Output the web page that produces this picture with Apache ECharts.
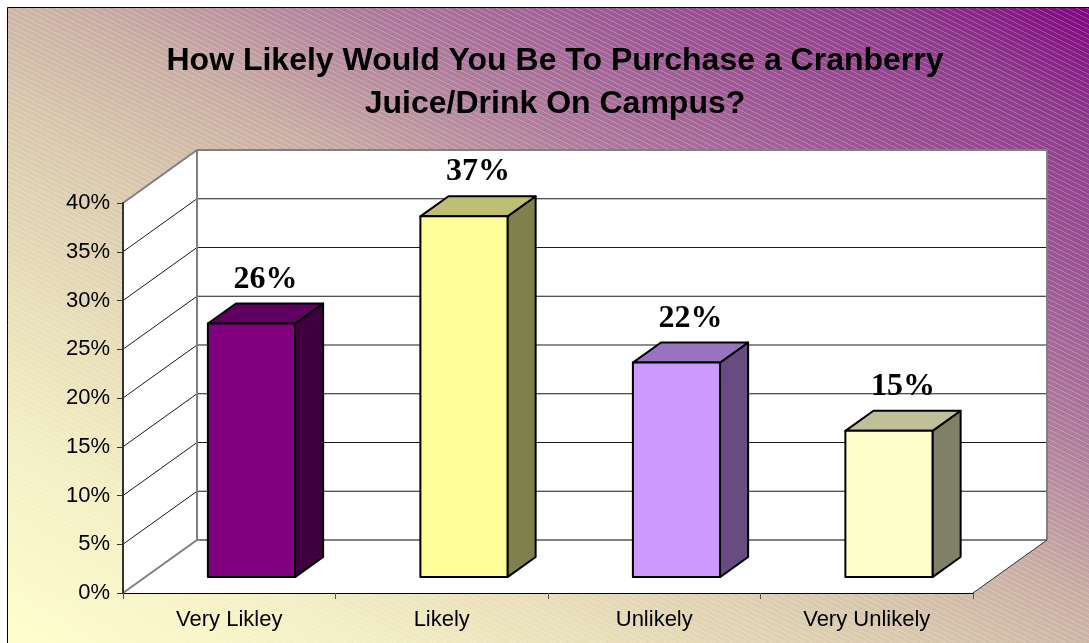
<!DOCTYPE html>
<html>
<head>
<meta charset="utf-8">
<script src="https://cdn.jsdelivr.net/npm/echarts@6/dist/echarts.min.js"></script>
<style>
  html, body { margin: 0; padding: 0; background: #fff; }
  #chart { width: 1089px; height: 643px; }
</style>
</head>
<body>
<div id="chart"></div>
<script>
// Survey answers and their shares (percent)
const categories = ['Very Likley', 'Likely', 'Unlikely', 'Very Unlikely'];
const shares = [26, 37, 22, 15];
// Value-axis ticks (percent); the outermost ones are the wall edges
const yTicks = [0, 5, 10, 15, 20, 25, 30, 35, 40];
const titleLines = ['How Likely Would You Be To Purchase a Cranberry', 'Juice/Drink On Campus?'];

// Face colours for each bar: front, top (shaded), side (darker)
const frontColors = ['#800080', '#FFFF99', '#CC99FF', '#FFFFCC'];
const topColors   = ['#600060', '#BFBF73', '#9973BF', '#BFBF99'];
const sideColors  = ['#400040', '#80804C', '#664C80', '#808066'];

// Oblique depth of the plot box in pixels
const DEPTH_X = 74, DEPTH_Y = -53;
// Bars occupy this slice of the depth and this fraction of a category band
const BAR_DEPTH_START = 0.3, BAR_DEPTH = 0.38, BAR_WIDTH = 0.41;

const SANS = '"Liberation Sans", Arial, sans-serif';
const SERIF = '"Liberation Serif", "Times New Roman", serif';

// Fine diagonal hatch laid over the frame gradient
function makeHatch() {
  const c = document.createElement('canvas');
  c.width = 10; c.height = 5;
  const ctx = c.getContext('2d');
  ctx.fillStyle = 'rgba(255,255,255,0.22)';
  for (let x = 0; x < 10; x++) ctx.fillRect(x, Math.floor(x / 2), 1, 1);
  return c;
}

const chart = echarts.init(document.getElementById('chart'), null, { renderer: 'canvas' });

function renderWalls(params, api) {
  const cs = params.coordSys;
  const x = cs.x, y = cs.y, w = cs.width, h = cs.height;
  const bottom = y + h;
  const children = [];
  const grey = { stroke: '#808080', lineWidth: 2 };
  // floor
  children.push({
    type: 'polygon',
    shape: { points: [[x, bottom], [x + w, bottom], [x + w + DEPTH_X, bottom + DEPTH_Y], [x + DEPTH_X, bottom + DEPTH_Y]] },
    style: { fill: '#fff' }
  });
  // side wall
  children.push({
    type: 'polygon',
    shape: { points: [[x, bottom], [x, y], [x + DEPTH_X, y + DEPTH_Y], [x + DEPTH_X, bottom + DEPTH_Y]] },
    style: { fill: '#fff' }
  });
  // back wall
  children.push({
    type: 'rect',
    shape: { x: x + DEPTH_X, y: y + DEPTH_Y, width: w, height: h },
    style: { fill: '#fff' }
  });
  // grid lines across side and back walls
  yTicks.forEach(function (v, k) {
    const yy = api.coord([0, v])[1];
    const edge = (k === 0 || k === yTicks.length - 1);
    const st = edge ? grey : { stroke: '#1a1a1a', lineWidth: 1 };
    children.push({
      type: 'polyline',
      shape: { points: [[x, yy], [x + DEPTH_X, yy + DEPTH_Y], [x + DEPTH_X + w, yy + DEPTH_Y]] },
      style: Object.assign({ fill: null }, st)
    });
  });
  // back wall vertical edges
  children.push({
    type: 'line',
    shape: { x1: x + DEPTH_X, y1: y + DEPTH_Y, x2: x + DEPTH_X, y2: bottom + DEPTH_Y },
    style: grey
  });
  children.push({
    type: 'line',
    shape: { x1: x + DEPTH_X + w, y1: y + DEPTH_Y, x2: x + DEPTH_X + w, y2: bottom + DEPTH_Y },
    style: grey
  });
  // right edge of the floor
  children.push({
    type: 'line',
    shape: { x1: x + w, y1: bottom, x2: x + w + DEPTH_X, y2: bottom + DEPTH_Y },
    style: { stroke: '#333', lineWidth: 1 }
  });
  return { type: 'group', children: children };
}

function renderBar(params, api) {
  const i = api.value(0), v = api.value(1);
  const base = api.coord([i, 0]);
  const topPt = api.coord([i, v]);
  const band = api.size([1, 0])[0];
  const w = band * BAR_WIDTH;
  const ox = BAR_DEPTH_START * DEPTH_X, oy = BAR_DEPTH_START * DEPTH_Y;
  const dx = BAR_DEPTH * DEPTH_X, dy = BAR_DEPTH * DEPTH_Y;
  const x0 = base[0] - w / 2 + ox;
  const y0 = base[1] + oy;
  const yt = topPt[1] + oy;
  const edge = { stroke: '#000', lineWidth: 2, lineJoin: 'round' };
  return {
    type: 'group',
    children: [
      {
        type: 'polygon',
        shape: { points: [[x0 + w, yt], [x0 + w, y0], [x0 + w + dx, y0 + dy], [x0 + w + dx, yt + dy]] },
        style: Object.assign({ fill: sideColors[i] }, edge)
      },
      {
        type: 'polygon',
        shape: { points: [[x0, yt], [x0 + w, yt], [x0 + w + dx, yt + dy], [x0 + dx, yt + dy]] },
        style: Object.assign({ fill: topColors[i] }, edge)
      },
      {
        type: 'rect',
        shape: { x: x0, y: yt, width: w, height: y0 - yt },
        style: Object.assign({ fill: frontColors[i] }, edge)
      },
      {
        type: 'text',
        x: x0 + (w + dx) / 2,
        y: yt + dy - 24,
        style: {
          text: v + '%',
          align: 'center',
          verticalAlign: 'middle',
          fill: '#000',
          font: 'bold 32px ' + SERIF
        }
      }
    ]
  };
}

const option = {
  backgroundColor: '#fff',
  animation: false,
  graphic: [
    {
      type: 'rect',
      z: -20,
      shape: { x: 7.5, y: 7.5, width: 1100, height: 660 },
      style: {
        fill: {
          type: 'linear', global: true,
          x: 0, y: 643, x2: 563, y2: -311,
          colorStops: [
            { offset: 0, color: '#FFFFCC' },
            { offset: 0.16, color: '#F4EFC5' },
            { offset: 0.28, color: '#E8DEB8' },
            { offset: 0.42, color: '#D9C8AD' },
            { offset: 0.53, color: '#C9AEA3' },
            { offset: 0.66, color: '#AE7A9C' },
            { offset: 0.78, color: '#9C5694' },
            { offset: 0.9, color: '#8E3C8C' },
            { offset: 1, color: '#800080' }
          ]
        },
        stroke: '#000',
        lineWidth: 1
      }
    },
    {
      type: 'rect',
      z: -19,
      silent: true,
      shape: { x: 8, y: 8, width: 1100, height: 660 },
      style: { fill: { image: makeHatch(), repeat: 'repeat' } }
    }
  ],
  title: {
    text: titleLines.join('\n'),
    left: 550,
    top: 35,
    textAlign: 'center',
    textStyle: {
      fontFamily: SANS,
      fontWeight: 'bold',
      fontSize: 32,
      lineHeight: 43,
      color: '#000'
    }
  },
  grid: { left: 123, top: 203, width: 850, height: 390, containLabel: false },
  xAxis: {
    type: 'category',
    data: categories,
    z: 10,
    axisLine: { show: true, lineStyle: { color: '#000', width: 1 } },
    axisTick: { show: true, length: 6, lineStyle: { color: '#555' } },
    axisLabel: { margin: 16, fontSize: 22, fontFamily: SANS, color: '#000' },
    splitLine: { show: false }
  },
  yAxis: {
    type: 'value',
    min: 0,
    max: 40,
    interval: 5,
    z: 10,
    axisLine: { show: true, lineStyle: { color: '#333', width: 2 } },
    axisTick: { show: true, length: 6, lineStyle: { color: '#333' } },
    axisLabel: { margin: 13, fontSize: 22, fontFamily: SANS, color: '#000', formatter: '{value}%' },
    splitLine: { show: false }
  },
  series: [
    {
      type: 'custom',
      name: 'walls',
      silent: true,
      clip: false,
      z: 1,
      data: [[0, 0]],
      renderItem: renderWalls
    },
    {
      type: 'custom',
      name: 'share',
      clip: false,
      z: 5,
      data: shares.map(function (v, i) { return [i, v]; }),
      renderItem: renderBar
    }
  ]
};

chart.setOption(option);
</script>
</body>
</html>
